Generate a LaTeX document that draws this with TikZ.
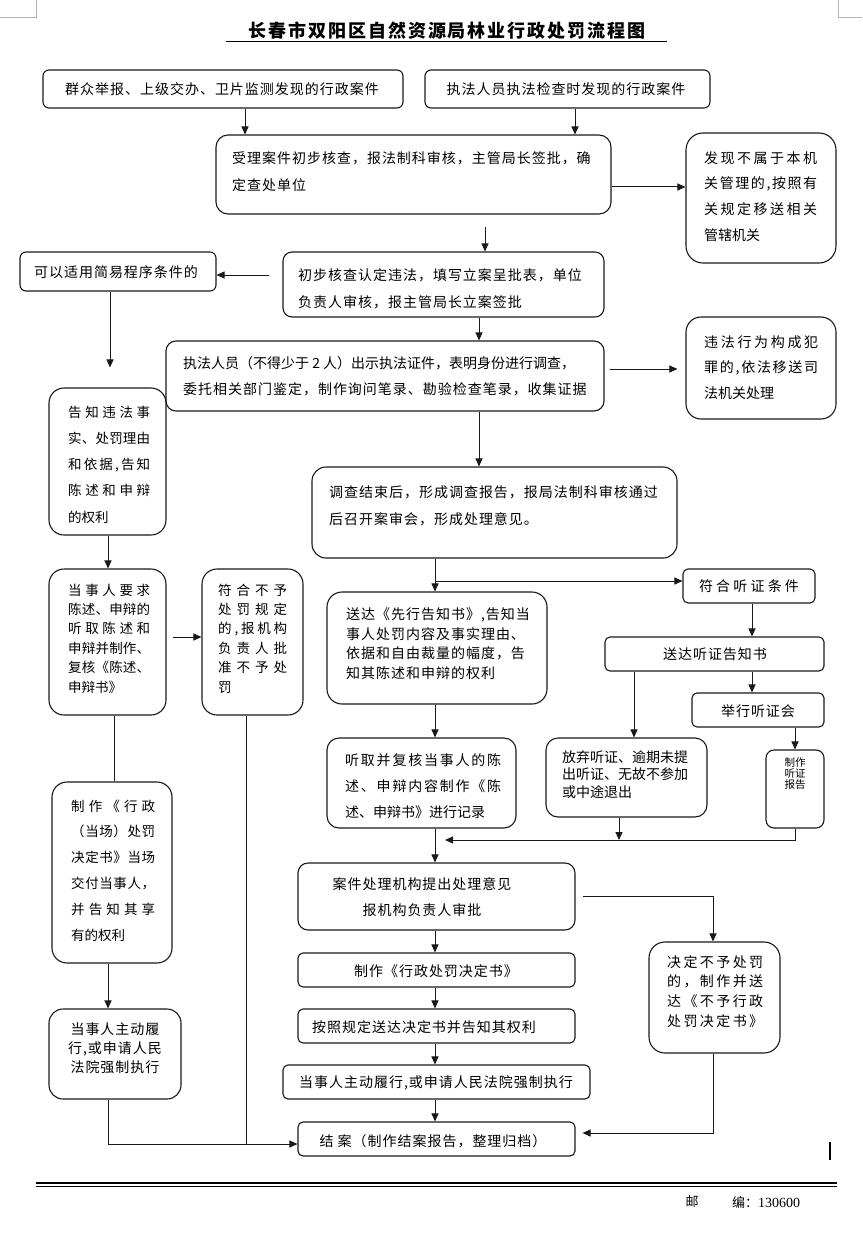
\documentclass[tikz,border=0pt]{standalone}
\usepackage{fontspec}
\usetikzlibrary{arrows.meta}
\newfontfamily\cjk{Noto Sans CJK SC}[LetterSpace=7]
\newfontfamily\cjkn{Noto Sans CJK SC}
\newfontfamily\cjkt{Noto Sans CJK SC}[LetterSpace=11]
\newfontfamily\digf{Liberation Serif}
\def\sprA#1#2{#1\ifx\relax#2\else\hfil\expandafter\sprA\expandafter#2\fi}
\newcommand\spr[2]{\hbox to #1pt{\sprA#2\relax}}
\newcommand\mybox[6]{\node[box,rounded corners=#6pt,minimum width={(#4-#2)*1pt},minimum height={(#5-#3)*1pt}] (#1) at ({(#2+#4)/2},{(#3+#5)/2}) {};}
\tikzset{
  box/.style={draw=black!90, line width=1.1pt, inner sep=0pt},
  arr/.style={draw=black!90, line width=1pt, -{Triangle[length=8pt,width=7pt]}},
  ln/.style={draw=black!90, line width=1pt},
  txt/.style={inner sep=0pt, align=left, anchor=west, text=black},
  ctxt/.style={inner sep=0pt, align=center, anchor=center, text=black},
}
\begin{document}
\begin{tikzpicture}[x=1pt,y=-1pt]
\fill[white] (0,0) rectangle (862,1252);
\useasboundingbox (0,0) rectangle (862,1252);

% corner marks
\coordinate (cm1) at (0,17); \coordinate (cm2) at (36,17); \coordinate (cm3) at (36,0);
\coordinate (cm4) at (838,0); \coordinate (cm5) at (838,17); \coordinate (cm6) at (862,17);
\draw[gray!60, line width=0.8pt] (cm3) -- (cm2) -- (cm1);
\draw[gray!60, line width=0.8pt] (cm4) -- (cm5) -- (cm6);

% title
\node[inner sep=0pt] (title) at (447,30.5) {\cjkt\bfseries\fontsize{18}{18}\selectfont 长春市双阳区自然资源局林业行政处罚流程图};
\coordinate (ul1) at (226,41.5); \coordinate (ul2) at (667,41.5);
\draw[line width=1.6pt] (ul1) -- (ul2);

% boxes
\mybox{b1}{43}{70}{403}{108}{6}
\mybox{b2}{425}{70}{710}{108}{6}
\mybox{b3}{216}{135}{611}{214}{12}
\mybox{b4}{686}{133}{836}{263}{17}
\mybox{b5}{283}{252}{604}{317}{9}
\mybox{b6}{20}{252}{216}{291}{6}
\mybox{b7}{166}{341}{604}{411}{10}
\mybox{b8}{686}{317}{836}{419}{15}
\mybox{b9}{312}{467}{677}{558}{14}
\mybox{b10}{49}{388}{166}{535}{15}
\mybox{b11}{683}{569}{815}{603}{5}
\mybox{b12}{49}{569}{166}{715}{15}
\mybox{b13}{202}{569}{303}{715}{15}
\mybox{b14}{52}{782}{172}{963}{15}
\mybox{b15}{49}{1009}{181}{1099}{14}
\mybox{b16}{327}{592}{547}{704}{15}
\mybox{b17}{605}{637}{824}{671}{5}
\mybox{b18}{692}{693}{824}{727}{5}
\mybox{b19}{327}{738}{516}{828}{12}
\mybox{b20}{546}{738}{707}{817}{12}
\mybox{b21}{766}{750}{824}{828}{8}
\mybox{b22}{298}{863}{575}{930}{10}
\mybox{b23}{649}{942}{780}{1053}{16}
\mybox{b24}{298}{953}{575}{987}{5}
\mybox{b25}{298}{1009}{575}{1043}{5}
\mybox{b26}{283}{1065}{590}{1099}{5}
\mybox{b27}{298}{1122}{575}{1156}{5}

% texts
\node[ctxt, font=\cjk\fontsize{14}{14}\selectfont] (t1) at (222,89) {群众举报、上级交办、卫片监测发现的行政案件};
\node[ctxt, font=\cjk\fontsize{14}{14}\selectfont] (t2) at (566,89) {执法人员执法检查时发现的行政案件};
\node[txt, font=\cjk\fontsize{14}{27}\selectfont] (t3) at (232,171.5) {受理案件初步核查，报法制科审核，主管局长签批，确\\定查处单位};
\node[txt, font=\cjkn\fontsize{14}{25.7}\selectfont] (t4) at (704,196.5) {\spr{113}{发现不属于本机}\\\spr{113}{关管理的,按照有}\\\spr{113}{关规定移送相关}\\管辖机关};
\node[txt, font=\cjk\fontsize{14}{27}\selectfont] (t5) at (298,288.5) {初步核查认定违法，填写立案呈批表，单位\\负责人审核，报主管局长立案签批};
\node[ctxt, font=\cjk\fontsize{14}{14}\selectfont] (t6) at (116,272) {可以适用简易程序条件的};
\node[txt, font=\cjk\fontsize{14}{26}\selectfont] (t7) at (183,376) {{\cjkn 执法人员（不得少于 2 人）出示执法证件，表明身份进行调查，}\\委托相关部门鉴定，制作询问笔录、勘验检查笔录，收集证据};
\node[txt, font=\cjkn\fontsize{14}{25.5}\selectfont] (t8) at (704,367.5) {\spr{114}{违法行为构成犯}\\\spr{114}{罪的,依法移送司}\\法机关处理};
\node[txt, font=\cjk\fontsize{14}{27}\selectfont] (t9) at (329,505.5) {调查结束后，形成调查报告，报局法制科审核通过\\后召开案审会，形成处理意见。};
\node[txt, font=\cjkn\fontsize{13.5}{26.2}\selectfont] (t10) at (68,464.5) {\spr{82}{告知违法事}\\\spr{82}{实、处罚理由}\\\spr{82}{和依据,告知}\\\spr{82}{陈述和申辩}\\的权利};
\node[ctxt, font=\cjkn\fontsize{14}{14}\selectfont] (t11) at (749,586) {\spr{100}{符合听证条件}};
\node[txt, font=\cjkn\fontsize{13.5}{19.4}\selectfont] (t12) at (68,638.5) {\spr{82}{当事人要求}\\\spr{82}{陈述、申辩的}\\\spr{82}{听取陈述和}\\\spr{82}{申辩并制作、}\\\spr{82}{复核《陈述、}\\申辩书》};
\node[txt, font=\cjkn\fontsize{13.5}{19.4}\selectfont] (t13) at (218,638.5) {\spr{69}{符合不予}\\\spr{69}{处罚规定}\\\spr{69}{的,报机构}\\\spr{69}{负责人批}\\\spr{69}{准不予处}\\罚};
\node[txt, font=\cjkn\fontsize{13.5}{25.8}\selectfont] (t14) at (71,870.5) {\spr{84}{制作《行政}\\\spr{84}{（当场）处罚}\\\spr{84}{决定书》当场}\\\spr{84}{交付当事人，}\\\spr{84}{并告知其享}\\有的权利};
\node[ctxt, font=\cjk\fontsize{14}{19}\selectfont] (t15) at (115,1048) {当事人主动履\\行,或申请人民\\法院强制执行};
\node[txt, font=\cjk\fontsize{14}{19.6}\selectfont] (t16) at (346,643.5) {送达《先行告知书》,告知当\\事人处罚内容及事实理由、\\依据和自由裁量的幅度，告\\知其陈述和申辩的权利};
\node[ctxt, font=\cjk\fontsize{14}{14}\selectfont] (t17) at (715,654) {送达听证告知书};
\node[ctxt, font=\cjk\fontsize{14}{14}\selectfont] (t18) at (758,711) {举行听证会};
\node[txt, font=\cjkn\fontsize{14}{26}\selectfont] (t19) at (345,786) {\spr{156}{听取并复核当事人的陈}\\\spr{156}{述、申辩内容制作《陈}\\述、申辩书》进行记录};
\node[txt, font=\cjkn\fontsize{14}{17.5}\selectfont] (t20) at (562,774.5) {放弃听证、逾期未提\\出听证、无故不参加\\或中途退出};
\node[ctxt, font=\cjkn\fontsize{10.5}{11}\selectfont] (t21) at (795,774) {制作\\听证\\报告};
\node[ctxt, font=\cjk\fontsize{14}{26}\selectfont] (t22) at (422,897) {案件处理机构提出处理意见\\报机构负责人审批};
\node[txt, font=\cjkn\fontsize{14}{19.7}\selectfont] (t23) at (667,991.5) {\spr{96}{决定不予处罚}\\\spr{96}{的，制作并送}\\\spr{96}{达《不予行政}\\\spr{96}{处罚决定书》}};
\node[ctxt, font=\cjk\fontsize{14}{14}\selectfont] (t24) at (436,971) {制作《行政处罚决定书》};
\node[ctxt, font=\cjk\fontsize{14}{14}\selectfont] (t25) at (424,1027) {按照规定送达决定书并告知其权利};
\node[ctxt, font=\cjk\fontsize{14}{14}\selectfont] (t26) at (436,1083) {当事人主动履行,或申请人民法院强制执行};
\node[ctxt, font=\cjk\fontsize{14}{14}\selectfont] (t27) at (433,1141) {结 案（制作结案报告，整理归档）};

% helper coordinates
\foreach \xx in {245,575,485,110,479,435,752,634,795,619,713,108,114,246}{\coordinate (X\xx) at (\xx,0);}
\foreach \yy in {187,275,369,581,637,840,896,1133,1144}{\coordinate (Y\yy) at (0,\yy);}
\coordinate (M445) at (445,840);

% connectors
\draw[arr] (b1.south -| X245) -- (b3.north -| X245);
\draw[arr] (b2.south -| X575) -- (b3.north -| X575);
\draw[arr] (b3.east |- Y187) -- (b4.west |- Y187);
\draw[arr, shorten <=12pt] (b3.south -| X485) -- (b5.north -| X485);
\draw[arr, shorten <=13pt] (b5.west |- Y275) -- (b6.east |- Y275);
\draw[arr, shorten >=20pt] (b6.south -| X110) -- (b10.north -| X110);
\draw[arr] (b5.south -| X479) -- (b7.north -| X479);
\draw[arr, shorten <=5pt, shorten >=8pt] (b7.east |- Y369) -- (b8.west |- Y369);
\draw[arr] (b7.south -| X479) -- (b9.north -| X479);
\draw[arr] (b9.south -| X435) -- (b16.north -| X435);
\draw[arr] (X435 |- Y581) -- (b11.west |- Y581);
\draw[arr] (b11.south -| X752) -- (b17.north -| X752);
\draw[arr] (b17.south -| X752) -- (b18.north -| X752);
\draw[arr] (b17.south -| X634) -- (b20.north -| X634);
\draw[arr] (b16.south -| X435) -- (b19.north -| X435);
\draw[arr] (b18.south -| X795) -- (b21.north -| X795);
\draw[arr] (b20.south -| X619) -- (X619 |- Y840);
\draw[arr] (b21.south -| X795) -- (X795 |- Y840) -- (M445);
\draw[arr] (b19.south -| X435) -- (b22.north -| X435);
\draw[arr, shorten <=7pt] (b22.east |- Y896) -- (X713 |- Y896) -- (b23.north -| X713);
\draw[arr] (b22.south -| X435) -- (b24.north -| X435);
\draw[arr] (b24.south -| X435) -- (b25.north -| X435);
\draw[arr] (b25.south -| X435) -- (b26.north -| X435);
\draw[arr] (b26.south -| X435) -- (b27.north -| X435);
\draw[arr, shorten >=7pt] (b23.south -| X713) -- (X713 |- Y1133) -- (b27.east |- Y1133);
\draw[arr] (b10.south -| X108) -- (b12.north -| X108);
\draw[arr, shorten <=6pt] (b12.east |- Y637) -- (b13.west |- Y637);
\draw[ln] (b12.south -| X114) -- (b14.north -| X114);
\draw[arr] (b14.south -| X108) -- (b15.north -| X108);
\draw[arr] (b15.south -| X108) -- (X108 |- Y1144) -- (b27.west |- Y1144);
\draw[ln] (b13.south -| X246) -- (X246 |- Y1144);

% bottom marks
\coordinate (vb1) at (830,1142); \coordinate (vb2) at (830,1160);
\draw[line width=1.8pt] (vb1) -- (vb2);
\coordinate (dl1) at (36,1183); \coordinate (dl2) at (837,1183);
\coordinate (dl3) at (36,1186.5); \coordinate (dl4) at (837,1186.5);
\draw[line width=1.6pt] (dl1) -- (dl2);
\draw[line width=0.8pt] (dl3) -- (dl4);
\node[ctxt, font=\cjkn\fontsize{13}{13}\selectfont] (pc1) at (692,1202) {邮};
\node[txt, font=\cjkn\fontsize{13}{13}\selectfont] (pc2) at (732,1202) {编：{\digf\fontsize{14}{14}\selectfont 130600}};
\end{tikzpicture}
\end{document}
